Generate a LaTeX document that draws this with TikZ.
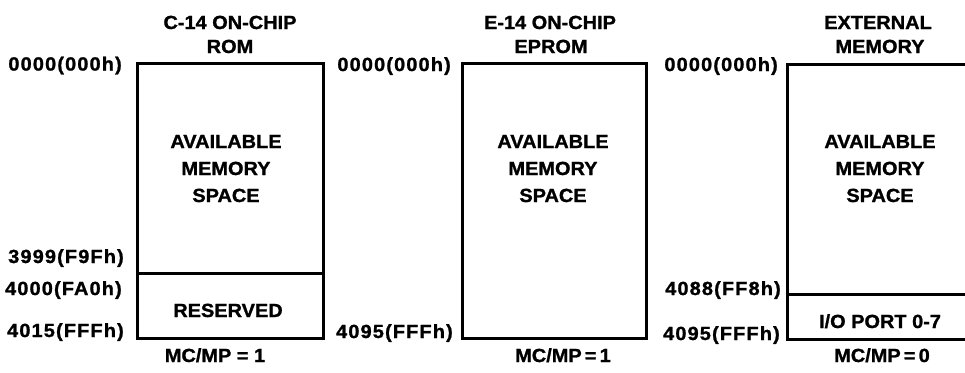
\documentclass[tikz,border=0pt]{standalone}
\usepackage{fontspec}
\setmainfont{Liberation Sans}[FakeStretch=1.05,BoldFeatures={FakeBold=1.2}]
\newfontfamily\addrfont{Liberation Sans}[FakeStretch=1.05,LetterSpace=6,BoldFeatures={FakeBold=1.2}]
\tikzset{
  txt/.style={font=\bfseries\fontsize{19}{19}\selectfont, inner sep=0pt, anchor=base},
  addr/.style={font=\addrfont\bfseries\fontsize{19}{19}\selectfont, inner sep=0pt, anchor=base east},
  membox/.style={draw, line width=3pt},
  divider/.style={line width=3pt}
}
\begin{document}
\begin{tikzpicture}[x=1pt,y=-1pt]
\useasboundingbox (0,0) rectangle (965,372);
\clip (0,0) rectangle (965,372);

% ---------- C-14 ON-CHIP ROM ----------
\node[txt] (t1a) at (230,29) {C-14 ON-CHIP};
\node[txt] (t1b) at (230,53) {ROM};
\draw[membox] (137,63) rectangle (323,338);
\coordinate (d1l) at (137,273);
\coordinate (d1r) at (323,273);
\draw[divider] (d1l) -- (d1r);
\node[txt] (a1a) at (226,148) {AVAILABLE};
\node[txt] (a1b) at (226,175) {MEMORY};
\node[txt] (a1c) at (226,202) {SPACE};
\node[txt] (res) at (228,317) {RESERVED};
\node[addr] (l1a) at (122,70.5) {0000(000h)};
\node[addr] (l1b) at (124,263) {3999(F9Fh)};
\node[addr] (l1c) at (122,295) {4000(FA0h)};
\node[addr] (l1d) at (124,337) {4015(FFFh)};
\node[txt] (m1) at (215,362) {MC/MP = 1};

% ---------- E-14 ON-CHIP EPROM ----------
\node[txt] (t2a) at (550,29) {E-14 ON-CHIP};
\node[txt] (t2b) at (551,53) {EPROM};
\draw[membox] (462,63) rectangle (646,338);
\node[txt] (a2a) at (553,148) {AVAILABLE};
\node[txt] (a2b) at (553,175) {MEMORY};
\node[txt] (a2c) at (553,202) {SPACE};
\node[addr] (l2a) at (451,71) {0000(000h)};
\node[addr] (l2b) at (453,338) {4095(FFFh)};
\node[txt] (m2) at (563,362) {MC/MP\,=\,1};

% ---------- EXTERNAL MEMORY ----------
\node[txt] (t3a) at (878,29) {EXTERNAL};
\node[txt] (t3b) at (880,53) {MEMORY};
\draw[membox] (787,64) rectangle (980,339);
\coordinate (d3l) at (787,294);
\coordinate (d3r) at (980,294);
\draw[divider] (d3l) -- (d3r);
\node[txt] (a3a) at (880,148) {AVAILABLE};
\node[txt] (a3b) at (880,175) {MEMORY};
\node[txt] (a3c) at (880,202) {SPACE};
\node[txt] (io) at (880,328) {I/O PORT 0-7};
\node[addr] (l3a) at (778,71) {0000(000h)};
\node[addr] (l3b) at (781,295) {4088(FF8h)};
\node[addr] (l3c) at (780,340) {4095(FFFh)};
\node[txt] (m3) at (882,362) {MC/MP\,=\,0};
\end{tikzpicture}
\end{document}
